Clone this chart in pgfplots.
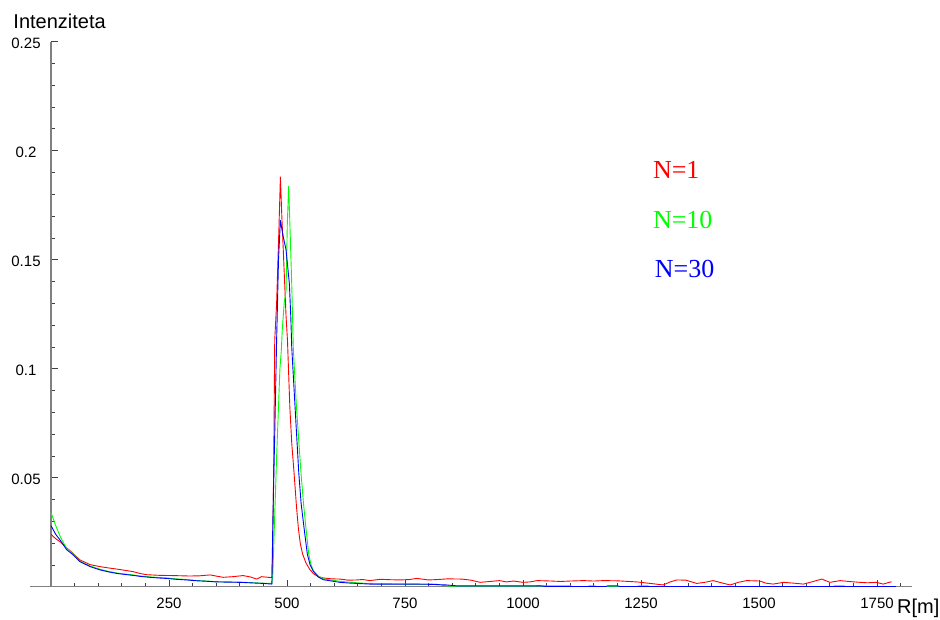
\documentclass[border=0pt]{standalone}
\usepackage{fontspec}
\setmainfont{Liberation Sans}
\newfontfamily\legendfont{Liberation Serif}
\usepackage{pgfplots}
\pgfplotsset{compat=1.18}
\definecolor{axgray}{RGB}{128,128,128}
\definecolor{nred}{RGB}{255,0,0}
\definecolor{ngreen}{RGB}{0,255,0}
\definecolor{nblue}{RGB}{0,0,255}

\begin{document}
\begin{tikzpicture}
\useasboundingbox (-30pt,-32.3pt) rectangle (910pt,586.7pt);
\begin{axis}[
  scale only axis, width=882.4pt, height=545pt,
  xmin=-44.5, xmax=1825, ymin=0, ymax=0.25,
  axis lines=middle,
  axis line style={draw=axgray, line width=1.1pt, -},
  every inner x axis line/.append style={-},
  every inner y axis line/.append style={-},
  xtick={250,500,750,1000,1250,1500,1750},
  xticklabels={250,500,750,1000,1250,1500,1750},
  minor xtick={50,100,...,1800},
  ytick={0.05,0.1,0.15,0.2,0.25},
  yticklabels={0.05,0.1,0.15,0.2,0.25},
  minor ytick={0.01,0.02,...,0.24},
  tick align=inside,
  major tick length=6.5pt, minor tick length=4pt,
  tick style={draw=black!75, line width=0.8pt},
  ticklabel style={font=\fontsize{15}{15}\selectfont},
  xticklabel style={anchor=center, yshift=-17pt},
  yticklabel style={anchor=center, xshift=-25pt, yshift=-1.5pt},
  clip=false,
  every axis plot/.append style={line width=0.9pt, line join=round},
]
% N = 1
\addplot[nred, mark=none] coordinates {
(0,0.0240) (10,0.0220) (20,0.0205) (33,0.0178) (46,0.0155) (61,0.0123) (83,0.0101)
(104,0.0092) (122,0.0086) (139,0.0081) (157,0.0075) (174,0.0069) (190,0.0060)
(203,0.0055) (231,0.0052) (260,0.0051) (294,0.0049) (315,0.0050) (337,0.0054)
(352,0.0048) (365,0.0043) (385,0.0046) (407,0.0051) (422,0.0045) (436,0.0035)
(446,0.0046) (460,0.0043) (468,0.0042) (470,0.0200) (472,0.0600) (474,0.1130)
(478,0.1300) (483,0.1650) (486,0.1880) (489,0.1700) (492,0.1550) (498,0.1240)
(501,0.1130) (506,0.0825) (510,0.0660) (515,0.0520) (520,0.0370) (524,0.0270)
(528,0.0200) (533,0.0150) (540,0.0110) (548,0.0080) (556,0.0060) (566,0.0046)
(577,0.0040) (595,0.0036) (612,0.0035) (630,0.0030) (648,0.0031) (660,0.0033)
(676,0.0028) (697,0.0034) (720,0.0032) (740,0.0031) (760,0.0033) (775,0.0038)
(800,0.0031) (820,0.0033) (840,0.0036) (870,0.0035) (890,0.0030) (909,0.0020)
(930,0.0024) (950,0.0028) (965,0.0022) (980,0.0026) (1000,0.0020) (1015,0.0022)
(1030,0.0028) (1060,0.0026) (1080,0.0024) (1100,0.0026) (1128,0.0028) (1150,0.0026)
(1170,0.0028) (1200,0.0027) (1241,0.0022) (1270,0.0015) (1297,0.0008) (1312,0.0022)
(1326,0.0031) (1345,0.0030) (1368,0.0015) (1385,0.0020) (1403,0.0028) (1420,0.0018)
(1439,0.0008) (1456,0.0020) (1474,0.0028) (1502,0.0026) (1515,0.0016) (1530,0.0012)
(1552,0.0020) (1575,0.0016) (1594,0.0012) (1615,0.0024) (1633,0.0035) (1650,0.0020)
(1672,0.0028) (1690,0.0024) (1714,0.0020) (1730,0.0018) (1749,0.0020) (1763,0.0012)
(1781,0.0023)
};
% N = 10
\addplot[ngreen, mark=none] coordinates {
(0,0.0340) (10,0.0280) (20,0.0228) (33,0.0176) (46,0.0153) (61,0.0118) (83,0.0095)
(104,0.0080) (122,0.0070) (139,0.0063) (157,0.0058) (174,0.0054) (190,0.0049)
(210,0.0045) (228,0.0042) (245,0.0040) (265,0.0036) (287,0.0033) (310,0.0028)
(330,0.0026) (350,0.0023) (375,0.0022) (400,0.0021) (430,0.0018) (450,0.0016)
(468,0.0015) (470,0.0061) (478,0.0596) (485,0.1000) (488,0.1086) (490,0.1180)
(494,0.1300) (498,0.1360) (500.6,0.1660) (503.5,0.1837) (506.4,0.1643) (510,0.1390)
(513.4,0.1090) (520,0.0826) (529.7,0.0520) (535,0.0380) (540,0.0272) (546,0.0150)
(551,0.0100) (556,0.0073) (566,0.0050) (577,0.0036) (595,0.0030) (612,0.0025)
(630,0.0021) (648,0.0018) (676,0.0014) (700,0.0013) (760,0.0012) (790,0.0012)
(815,0.0012) (830,0.0006) (850,0.0002) (1025,0.0002) (1030,0.0004) (1100,0.0004)
(1105,0.0001) (1138,0.0001) (1140,0.0004) (1152,0.0004) (1155,0.0001) (1243,0.0001)
(1245,0.0004) (1265,0.0004) (1268,0.0001) (1658,0.0001) (1660,0.0004) (1680,0.0004)
(1683,0.0001) (1790,0.0001)
};
% N = 30
\addplot[nblue, mark=none] coordinates {
(0,0.0280) (10,0.0240) (20,0.0212) (33,0.0170) (46,0.0148) (61,0.0115) (83,0.0092)
(104,0.0077) (122,0.0068) (139,0.0061) (157,0.0056) (174,0.0052) (190,0.0047)
(210,0.0043) (228,0.0040) (245,0.0038) (265,0.0034) (287,0.0031) (310,0.0027)
(330,0.0025) (350,0.0022) (375,0.0021) (400,0.0020) (430,0.0017) (450,0.0015)
(468,0.0012) (470,0.0300) (474,0.0700) (478,0.1130) (482,0.1500) (486,0.1680)
(492,0.1606) (498,0.1545) (505,0.1390) (508,0.1240) (510,0.1100) (517,0.0826)
(525,0.0520) (530,0.0380) (536,0.0272) (543,0.0150) (549,0.0100) (556,0.0070)
(566,0.0045) (577,0.0032) (595,0.0026) (612,0.0020) (630,0.0017) (648,0.0015)
(676,0.0012) (700,0.0012) (760,0.0012) (800,0.0011) (838,0.0008) (860,0.0004)
(1035,0.0004) (1050,0.0001) (1175,0.0001) (1180,0.0004) (1200,0.0004) (1205,0.0001)
(1790,0.0001)
};
\node[anchor=base west, inner sep=0pt, text=nred,
  font=\legendfont\fontsize{26}{26}\selectfont] at (axis cs:1275,0.1873) {N=1};
\node[anchor=base west, inner sep=0pt, text=ngreen,
  font=\legendfont\fontsize{26}{26}\selectfont] at (axis cs:1275,0.1641) {N=10};
\node[anchor=base west, inner sep=0pt, text=nblue,
  font=\legendfont\fontsize{26}{26}\selectfont] at (axis cs:1279,0.1417) {N=30};
\end{axis}
\node[anchor=base west, inner sep=0pt, font=\fontsize{20}{20}\selectfont]
  at (-16.7pt,557.7pt) {Intenziteta};
\node[anchor=base west, inner sep=0pt, font=\fontsize{20}{20}\selectfont]
  at (867pt,-26.6pt) {R[m]};
\end{tikzpicture}
\end{document}
